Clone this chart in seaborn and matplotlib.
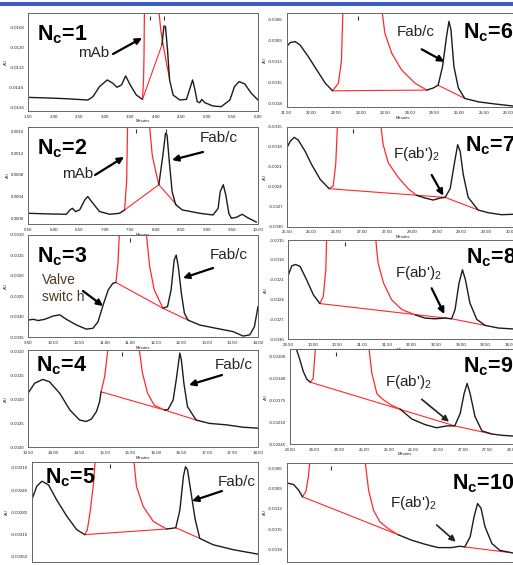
import matplotlib
matplotlib.use("Agg")
import matplotlib.pyplot as plt
import seaborn as sns
from matplotlib.patches import FancyArrowPatch, Rectangle

sns.set_style("white")
plt.rcParams["font.family"] = ["Liberation Sans", "DejaVu Sans"]
plt.rcParams["mathtext.fontset"] = "custom"
plt.rcParams["mathtext.rm"] = "Liberation Sans"
plt.rcParams["mathtext.bf"] = "Liberation Sans:bold"
plt.rcParams["mathtext.it"] = "Liberation Sans:italic"
plt.rcParams["mathtext.sf"] = "Liberation Sans"

# ---------------- data (minutes, AU) ----------------
# Panel 1  (Nc=1)
p1_xticks = [1.5, 2.0, 2.5, 3.0, 3.5, 4.0, 4.5, 5.0, 5.5, 6.0]
p1_yticks = [-0.0108, -0.0120, -0.0132, -0.0144, -0.0156]
p1_pre = [(1.50, -0.01500), (1.92, -0.01504), (2.25, -0.01508), (2.67, -0.01516), (2.77, -0.01496),
          (2.90, -0.01435), (3.05, -0.01395), (3.16, -0.01415), (3.24, -0.01439), (3.33, -0.01425),
          (3.41, -0.01371), (3.50, -0.01425), (3.62, -0.01486), (3.74, -0.01512)]
p1_post = [(4.12, -0.01184), (4.16, -0.01070), (4.19, -0.01074), (4.23, -0.01215), (4.27, -0.01395),
           (4.34, -0.01486), (4.47, -0.01516), (4.60, -0.01512), (4.68, -0.01435), (4.72, -0.01395),
           (4.76, -0.01445), (4.81, -0.01526), (4.86, -0.01532), (4.90, -0.01512), (4.96, -0.01532),
           (5.12, -0.01552), (5.28, -0.01556), (5.45, -0.01516), (5.54, -0.01435), (5.63, -0.01405),
           (5.74, -0.01419), (5.87, -0.01476), (6.00, -0.01516)]
p1_red_up = [(3.74, -0.01512), (3.76, -0.01400), (3.77, -0.01250), (3.78, -0.00900)]
p1_red_down = [(4.05, -0.00950), (4.10, -0.01100), (4.14, -0.01174), (4.21, -0.01295), (4.27, -0.01385)]
p1_red_base = [(3.74, -0.01512), (4.12, -0.01184)]
p1_red_tail = []
p1_peak_marks = [3.88, 4.17]

# Panel 2  (Nc=2)
p2_xticks = [5.5, 6.0, 6.5, 7.0, 7.5, 8.0, 8.5, 9.0, 9.5, 10.0]
p2_yticks = [0.0016, 0.0012, 0.0008, 0.0004, 0.0000]
p2_pre = [(5.50, 0.000093), (5.92, 0.000081), (6.25, 0.000075), (6.32, 0.000155), (6.37, 0.000185),
          (6.43, 0.000124), (6.51, 0.000155), (6.61, 0.000339), (6.67, 0.000401), (6.77, 0.000278),
          (6.90, 0.000124), (7.10, 0.000075), (7.29, 0.000093), (7.39, 0.000155)]
p2_post = [(8.06, 0.00062), (8.14, 0.00117), (8.19, 0.00157), (8.22, 0.00154), (8.27, 0.00099),
           (8.32, 0.00049), (8.39, 0.00025), (8.52, 0.000155), (8.86, 0.000093), (9.12, 0.000062),
           (9.22, 0.000185), (9.26, 0.00049), (9.32, 0.00062), (9.37, 0.00043), (9.43, 0.00009),
           (9.48, 0.0000), (9.58, 0.00002), (9.69, 0.000075), (9.80, 0.00001), (9.97, -0.00007)]
p2_red_up = [(7.39, 0.000155), (7.43, 0.00068), (7.45, 0.0018)]
p2_red_down = [(7.87, 0.0018), (7.93, 0.00117), (8.00, 0.00086), (8.06, 0.00062)]
p2_red_base = [(7.39, 0.000155), (8.06, 0.00062), (8.41, 0.000247)]
p2_red_tail = []
p2_peak_marks = [7.62, 8.20]

# Panel 3  (Nc=3)
p3_xticks = [9.5, 10.0, 10.5, 11.0, 11.5, 12.0, 12.5, 13.0, 13.5, 14.0]
p3_yticks = [-0.0010, -0.0015, -0.0020, -0.0025, -0.0030, -0.0035]
p3_pre = [(9.50, -0.00308), (9.60, -0.00306), (9.70, -0.00309), (9.83, -0.00306), (9.99, -0.00298),
          (10.12, -0.00295), (10.25, -0.00306), (10.45, -0.00320), (10.64, -0.00330), (10.77, -0.00328),
          (10.87, -0.00312), (10.97, -0.00271), (11.07, -0.00234), (11.16, -0.00218), (11.22, -0.00216)]
p3_post = [(12.14, -0.00279), (12.23, -0.00275), (12.30, -0.00234), (12.36, -0.00161), (12.40, -0.00149),
           (12.44, -0.00177), (12.50, -0.00242), (12.56, -0.00291), (12.63, -0.00308), (12.86, -0.00320),
           (13.18, -0.00328), (13.51, -0.00336), (13.71, -0.00347), (13.84, -0.00344), (13.93, -0.00324),
           (14.00, -0.00275)]
p3_red_up = [(11.22, -0.00216), (11.26, -0.00169), (11.29, -0.0009)]
p3_red_down = [(11.81, -0.0009), (11.88, -0.00177), (11.97, -0.00234), (12.14, -0.00279)]
p3_red_base = [(11.22, -0.00216), (12.14, -0.00279), (12.63, -0.00308)]
p3_red_tail = []
p3_peak_marks = [11.49]

# Panel 4  (Nc=4)
p4_xticks = [13.5, 14.0, 14.5, 15.0, 15.5, 16.0, 16.5, 17.0, 17.5, 18.0]
p4_yticks = [-0.0010, -0.0015, -0.0020, -0.0025, -0.0030]
p4_pre = [(13.50, -0.00187), (13.63, -0.00166), (13.79, -0.00158), (13.92, -0.00163), (14.12, -0.00187),
          (14.32, -0.00222), (14.51, -0.00243), (14.64, -0.00246), (14.74, -0.00241), (14.84, -0.00225),
          (14.90, -0.00205), (14.93, -0.00184)]
p4_post = [(16.17, -0.00222), (16.24, -0.00221), (16.34, -0.00201), (16.40, -0.00159), (16.47, -0.00103),
           (16.50, -0.00117), (16.55, -0.00166), (16.62, -0.00215), (16.79, -0.00243), (17.05, -0.00250),
           (17.38, -0.00253), (17.71, -0.00258), (18.00, -0.00260)]
p4_red_up = [(14.93, -0.00184), (15.00, -0.00152), (15.07, -0.0009)]
p4_red_down = [(15.67, -0.0009), (15.74, -0.00145), (15.84, -0.00187), (15.97, -0.00212), (16.17, -0.00222)]
p4_red_base = [(14.93, -0.00184), (16.17, -0.00222), (16.79, -0.00243)]
p4_red_tail = []
p4_peak_marks = [15.33]

# Panel 5  (Nc=5)
p5_xticks = [14.5, 15.0, 15.5, 16.0, 16.5, 17.0, 17.5, 18.0, 18.5]
p5_yticks = [-0.00210, -0.00245, -0.00280, -0.00315, -0.00350]
p5_pre = [(14.50, -0.00261), (14.60, -0.00239), (14.70, -0.00231), (14.83, -0.00237), (14.99, -0.00261),
          (15.19, -0.00287), (15.38, -0.00308), (15.54, -0.00316)]
p5_post = [(17.14, -0.00307), (17.24, -0.00306), (17.32, -0.00305), (17.40, -0.00277), (17.47, -0.00223),
           (17.51, -0.00208), (17.55, -0.00213), (17.61, -0.00245), (17.70, -0.00292), (17.79, -0.00322),
           (18.05, -0.00332), (18.45, -0.00340), (18.93, -0.00347)]
p5_red_up = [(15.54, -0.00316), (15.59, -0.00308), (15.65, -0.00276), (15.71, -0.00234), (15.75, -0.0019)]
p5_red_down = [(16.49, -0.0019), (16.55, -0.00239), (16.68, -0.00271), (16.88, -0.00295), (17.14, -0.00307)]
p5_red_base = [(15.54, -0.00316), (17.14, -0.00307)]
p5_red_tail = [(17.32, -0.00305), (17.79, -0.00322)]
p5_peak_marks = [16.03]

# Panel 6  (Nc=6)
p6_xticks = [21.5, 22.0, 22.5, 23.0, 23.5, 24.0, 24.5, 25.0, 25.5, 26.0]
p6_yticks = [-0.0006, -0.0009, -0.0012, -0.0015, -0.0018]
p6_pre = [(21.50, -0.000984), (21.57, -0.000926), (21.67, -0.000912), (21.77, -0.00096), (21.94, -0.00113),
          (22.11, -0.00132), (22.28, -0.00151), (22.43, -0.00162)]
p6_post = [(24.34, -0.00161), (24.47, -0.00158), (24.57, -0.00154), (24.66, -0.00127), (24.74, -0.00084),
           (24.79, -0.00062), (24.83, -0.00074), (24.89, -0.00127), (24.98, -0.00158), (25.11, -0.00173),
           (25.39, -0.00178), (25.72, -0.00181), (26.09, -0.00184), (26.23, -0.00185)]
p6_red_up = [(22.43, -0.00162), (22.55, -0.00151), (22.61, -0.00118), (22.64, -0.00045)]
p6_red_down = [(23.43, -0.00045), (23.49, -0.00079), (23.63, -0.00108), (23.83, -0.00132), (24.10, -0.00151),
               (24.34, -0.00161)]
p6_red_base = [(22.43, -0.00162), (24.34, -0.00161)]
p6_red_tail = [(24.57, -0.00154), (25.11, -0.00173)]
p6_peak_marks = [22.95]

# Panel 7  (Nc=7)
p7_xticks = [25.5, 26.0, 26.5, 27.0, 27.5, 28.0, 28.5, 29.0, 29.5, 30.0]
p7_yticks = [-0.0015, -0.0018, -0.0021, -0.0024, -0.0027, -0.0030]
p7_pre = [(25.50, -0.00182), (25.57, -0.00172), (25.65, -0.00166), (25.73, -0.00170), (25.87, -0.00187),
          (26.00, -0.00207), (26.17, -0.00229), (26.35, -0.00243)]
p7_post = [(28.10, -0.00253), (28.27, -0.00257), (28.43, -0.00260), (28.57, -0.00257), (28.67, -0.00256),
           (28.77, -0.00243), (28.85, -0.00207), (28.92, -0.00177), (28.97, -0.00187), (29.03, -0.00221),
           (29.13, -0.00256), (29.33, -0.00275), (29.53, -0.00279), (29.80, -0.00282), (30.17, -0.00281)]
p7_red_up = [(26.35, -0.00243), (26.43, -0.00239), (26.48, -0.00207), (26.52, -0.0014)]
p7_red_down = [(27.37, -0.0014), (27.43, -0.00177), (27.53, -0.00204), (27.73, -0.00226), (27.93, -0.00243),
               (28.10, -0.00253)]
p7_red_base = [(26.35, -0.00243), (28.67, -0.00256), (29.33, -0.00275)]
p7_red_tail = []
p7_peak_marks = [26.83]

# Panel 8  (Nc=8)
p8_xticks = [29.5, 30.0, 30.5, 31.0, 31.5, 32.0, 32.5, 33.0, 33.5, 34.0]
p8_yticks = [-0.0015, -0.0018, -0.0021, -0.0024, -0.0027, -0.0030]
p8_pre = [(29.50, -0.00203), (29.57, -0.00189), (29.65, -0.00187), (29.74, -0.00190), (29.87, -0.00210),
          (30.01, -0.00233), (30.14, -0.00246)]
p8_post = [(32.07, -0.00263), (32.27, -0.00268), (32.47, -0.00269), (32.68, -0.00268), (32.81, -0.00269),
           (32.88, -0.00255), (32.96, -0.00215), (33.03, -0.00195), (33.09, -0.00210), (33.18, -0.00245),
           (33.32, -0.00270), (33.49, -0.00279), (33.76, -0.00283), (34.20, -0.00285)]
p8_red_up = [(30.14, -0.00246), (30.21, -0.00235), (30.26, -0.00195), (30.28, -0.0014)]
p8_red_down = [(31.26, -0.0014), (31.32, -0.00185), (31.43, -0.00215), (31.59, -0.00240), (31.80, -0.00255),
               (32.07, -0.00263)]
p8_red_base = [(30.14, -0.00246), (32.81, -0.00269), (33.49, -0.00279)]
p8_red_tail = []
p8_peak_marks = [30.64]

# Panel 9  (Nc=9)
p9_xticks = [23.5, 24.0, 24.5, 25.0, 25.5, 26.0, 26.5, 27.0, 27.5, 28.0]
p9_yticks = [-0.00105, -0.00140, -0.00175, -0.00210, -0.00245]
p9_pre = [(23.60, -0.00088), (23.63, -0.00093), (23.70, -0.00110), (23.77, -0.00129), (23.84, -0.00141),
          (23.91, -0.00146)]
p9_post = [(25.73, -0.00189), (25.97, -0.00205), (26.24, -0.00214), (26.47, -0.00219), (26.68, -0.00216),
           (26.84, -0.00216), (26.95, -0.00196), (27.03, -0.00164), (27.09, -0.00148), (27.15, -0.00164),
           (27.25, -0.00201), (27.39, -0.00224), (27.59, -0.00229), (27.79, -0.00231), (28.16, -0.00233)]
p9_red_up = [(23.91, -0.00146), (23.97, -0.00140), (24.02, -0.00085)]
p9_red_down = [(25.09, -0.00085), (25.16, -0.00132), (25.26, -0.00164), (25.33, -0.00170), (25.39, -0.00174),
               (25.56, -0.00183), (25.73, -0.00189)]
p9_red_base = [(23.91, -0.00146), (26.84, -0.00216), (27.59, -0.00229)]
p9_red_tail = []
p9_peak_marks = [24.43]

# Panel 10 (Nc=10)
p10_xticks = [33.5, 34.0, 34.5, 35.0, 35.5, 36.0, 36.5, 37.0, 37.5, 38.0]
p10_yticks = [-0.0006, -0.0009, -0.0012, -0.0015, -0.0018]
p10_pre = [(33.53, -0.00082), (33.64, -0.00084), (33.74, -0.00092), (33.82, -0.00102)]
p10_post = [(35.76, -0.00158), (36.03, -0.00166), (36.30, -0.00172), (36.57, -0.00177), (36.84, -0.00177),
            (37.01, -0.00175), (37.11, -0.00176), (37.22, -0.00161), (37.30, -0.00131), (37.37, -0.00112),
            (37.44, -0.00119), (37.52, -0.00146), (37.66, -0.00171), (37.82, -0.00181), (38.09, -0.00185),
            (38.23, -0.00186)]
p10_red_up = [(33.82, -0.00102), (33.89, -0.00094), (33.94, -0.00072), (33.97, -0.0005)]
p10_red_down = [(35.09, -0.0005), (35.16, -0.00092), (35.26, -0.00122), (35.39, -0.00139), (35.56, -0.00149),
                (35.76, -0.00158)]
p10_red_base = [(33.82, -0.00102), (35.76, -0.00158)]
p10_red_tail = [(37.11, -0.00176), (37.99, -0.00184)]
p10_peak_marks = [34.40]

nc_labels = ["1", "2", "3", "4", "5", "6", "7", "8", "9", "10"]

# ---------------- layout ----------------
W, H = 513, 565
fig = plt.figure(figsize=(W / 100, H / 100), dpi=100)
fig.patch.set_facecolor("white")

# (left, top, right, bottom) in pixels, xlim, ylim, y decimal places
layout = [
    ((28, 13.3, 258, 111), (1.5, 6.0), (-0.01582, -0.00994), 4),
    ((28, 126.7, 258, 224.3), (5.5, 10.0), (-0.00011, 0.00169), 4),
    ((28, 235, 258, 337.3), (9.5, 14.0), (-0.0035, -0.0010), 4),
    ((28, 350, 258, 447.3), (13.5, 18.0), (-0.0030, -0.000965), 4),
    ((31.7, 461.7, 258.3, 561.7), (14.5, 18.935), (-0.00359, -0.0020), 5),
    ((286.7, 13.3, 520, 107.3), (21.5, 26.23), (-0.001858, -0.000504), 4),
    ((286.7, 126.7, 520, 226.7), (25.5, 30.167), (-0.002976, -0.0015), 4),
    ((288.3, 240, 520, 339.3), (29.5, 34.196), (-0.00299, -0.0015), 4),
    ((290, 349.3, 520, 444), (23.5, 28.162), (-0.002449, -0.000933), 5),
    ((286.7, 463.3, 520, 561.7), (33.5, 38.23), (-0.001978, -0.000526), 4),
]

panels = [
    (p1_xticks, p1_yticks, p1_pre, p1_post, p1_red_up, p1_red_down, p1_red_base, p1_red_tail, p1_peak_marks),
    (p2_xticks, p2_yticks, p2_pre, p2_post, p2_red_up, p2_red_down, p2_red_base, p2_red_tail, p2_peak_marks),
    (p3_xticks, p3_yticks, p3_pre, p3_post, p3_red_up, p3_red_down, p3_red_base, p3_red_tail, p3_peak_marks),
    (p4_xticks, p4_yticks, p4_pre, p4_post, p4_red_up, p4_red_down, p4_red_base, p4_red_tail, p4_peak_marks),
    (p5_xticks, p5_yticks, p5_pre, p5_post, p5_red_up, p5_red_down, p5_red_base, p5_red_tail, p5_peak_marks),
    (p6_xticks, p6_yticks, p6_pre, p6_post, p6_red_up, p6_red_down, p6_red_base, p6_red_tail, p6_peak_marks),
    (p7_xticks, p7_yticks, p7_pre, p7_post, p7_red_up, p7_red_down, p7_red_base, p7_red_tail, p7_peak_marks),
    (p8_xticks, p8_yticks, p8_pre, p8_post, p8_red_up, p8_red_down, p8_red_base, p8_red_tail, p8_peak_marks),
    (p9_xticks, p9_yticks, p9_pre, p9_post, p9_red_up, p9_red_down, p9_red_base, p9_red_tail, p9_peak_marks),
    (p10_xticks, p10_yticks, p10_pre, p10_post, p10_red_up, p10_red_down, p10_red_base, p10_red_tail,
     p10_peak_marks),
]

RED = "#ff2a2a"
BLACK = "#1c1c1c"


def line(ax, pts, color, lw):
    if not pts:
        return
    sns.lineplot(x=[p[0] for p in pts], y=[p[1] for p in pts], ax=ax, color=color,
                 linewidth=lw, sort=False, estimator=None, legend=False)


for (box, xlim, ylim, nd), (xt, yt, pre, post, rup, rdown, rbase, rtail, marks) in zip(layout, panels):
    l, t, r, b = box
    ax = fig.add_axes([l / W, 1 - b / H, (r - l) / W, (b - t) / H])
    line(ax, rbase, RED, 0.8)
    line(ax, rtail, RED, 0.8)
    line(ax, rup, RED, 0.9)
    line(ax, rdown, RED, 0.9)
    line(ax, pre, BLACK, 1.0)
    line(ax, post, BLACK, 1.0)
    ax.set_xlim(*xlim)
    ax.set_ylim(*ylim)
    ytop = ylim[1] - (ylim[1] - ylim[0]) * 0.045
    ax.plot(marks, [ytop] * len(marks), linestyle="none", marker="|", markersize=3.5,
            markeredgewidth=0.8, color="#333333")
    ax.set_xticks(xt)
    ax.set_xticklabels([f"{v:.2f}" for v in xt])
    ax.set_yticks(yt)
    ax.set_yticklabels([f"{v:.{nd}f}" for v in yt])
    ax.tick_params(labelsize=3.2, length=1.2, width=0.4, pad=1.5, colors="#222222")
    ax.set_xlabel("Minutes", fontsize=3, labelpad=0.5, color="#222222")
    ax.set_ylabel("AU", fontsize=3, labelpad=1, color="#222222")
    for s in ax.spines.values():
        s.set_color("#666666")
        s.set_linewidth(0.7)
    ax.set_facecolor("white")


def ftext(x, y, s, **kw):
    fig.text(x / W, 1 - y / H, s, **kw)


def farrow(x1, y1, x2, y2, lw=1.6, color="black"):
    fig.add_artist(FancyArrowPatch(posA=(x1 / W, 1 - y1 / H), posB=(x2 / W, 1 - y2 / H),
                                   transform=fig.transFigure, arrowstyle="-|>",
                                   mutation_scale=9, lw=lw, color=color, shrinkA=0, shrinkB=0))


# Nc labels (left x, baseline y in pixels)
nc_pos = [(37, 40.7), (37, 154), (37, 262.7), (36, 371.7), (45, 483.3),
          (463, 38.3), (465, 151.7), (465.7, 263.3), (463.3, 372.3), (451.7, 489.3)]
for (x, y), n in zip(nc_pos, nc_labels):
    ftext(x, y, r"N$_\mathbf{c}$=" + n, fontsize=15.5, fontweight="bold", ha="left", va="baseline",
          color="black")

LBL = 11
ftext(78, 53, "mAb", fontsize=LBL, va="center", ha="left")
farrow(113, 54, 142, 38)
ftext(62, 174, "mAb", fontsize=LBL, va="center", ha="left")
farrow(95, 175, 124, 157)
ftext(200, 138, "Fab/c", fontsize=LBL, va="center", ha="left")
farrow(203, 152, 172, 160)
ftext(42, 288.5, "Valve\nswitc h", fontsize=10, va="center", ha="left", color="#4d3a22", linespacing=1.25)
farrow(83, 291, 103, 306)
ftext(210, 255, "Fab/c", fontsize=LBL, va="center", ha="left")
farrow(213, 268, 183, 278)
ftext(215, 365, "Fab/c", fontsize=LBL, va="center", ha="left")
farrow(222, 375, 189, 385)
ftext(218, 482, "Fab/c", fontsize=LBL, va="center", ha="left")
farrow(222, 491, 192, 501)
ftext(396.7, 31.7, "Fab/c", fontsize=LBL, va="center", ha="left")
farrow(421.7, 49.3, 444.3, 61.7)
FAB2 = r"F(ab')$_\mathregular{2}$"
ftext(393.3, 154.3, FAB2, fontsize=LBL, va="center", ha="left", color="#222222")
farrow(431.7, 175, 443.3, 195.7)
ftext(395, 272.7, FAB2, fontsize=LBL, va="center", ha="left", color="#222222")
farrow(431.7, 288.3, 444.3, 314)
ftext(385, 381.7, FAB2, fontsize=LBL, va="center", ha="left", color="#222222")
farrow(421.7, 399.3, 449, 421.7, lw=1.2, color="#222222")
ftext(390, 503.3, FAB2, fontsize=LBL, va="center", ha="left", color="#222222")
farrow(436.7, 525, 455.7, 541.7, lw=1.2, color="#222222")

# blue bar at the top
fig.add_artist(Rectangle((0, 1 - 6.2 / H), 1, 3.8 / H, transform=fig.transFigure,
                         facecolor="#3b5bcc", edgecolor="none"))

fig.savefig("out.png", dpi=100, facecolor="white")
